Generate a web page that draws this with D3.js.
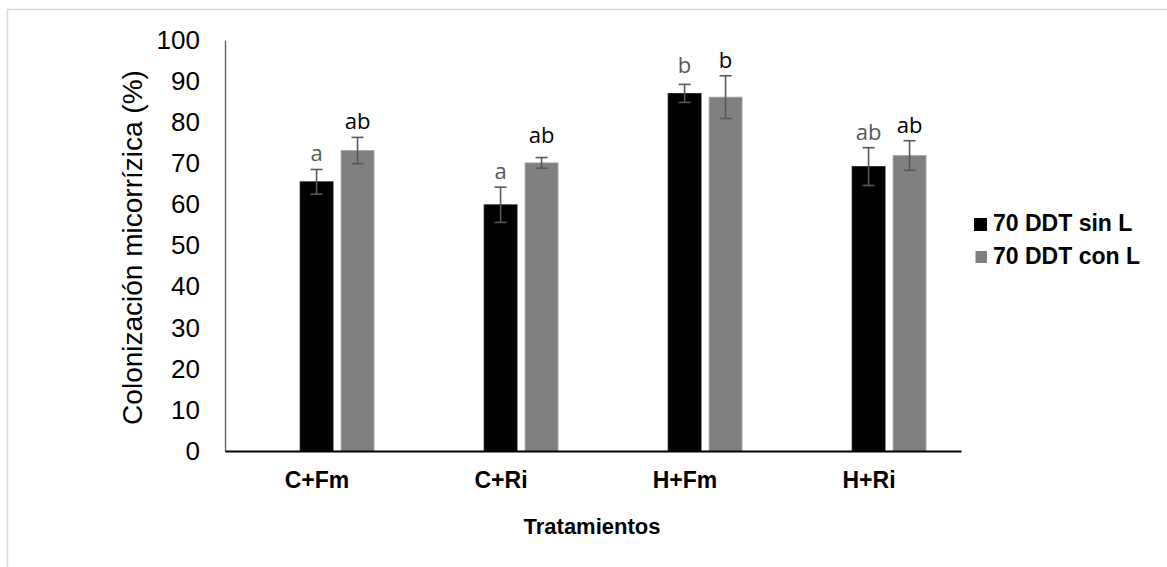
<!DOCTYPE html>
<html>
<head>
<meta charset="utf-8">
<script src="https://cdn.jsdelivr.net/npm/d3@7"></script>
<style>
  html, body { margin: 0; padding: 0; background: #fff; }
  svg { display: block; }
</style>
</head>
<body>
<svg id="chart" width="1167" height="567"></svg>
<script>
// Treatments on the x axis
const categories = ["C+Fm", "C+Ri", "H+Fm", "H+Ri"];
// Series names (legend)
const seriesNames = ["70 DDT sin L", "70 DDT con L"];
// Mean mycorrhizal colonization (%) per treatment
const sinL = [65.5, 59.9, 87.0, 69.2];
const conL = [73.1, 70.1, 86.1, 71.9];
// Error bar half-lengths (%)
const errSinL = [3.0, 4.3, 2.2, 4.6];
const errConL = [3.2, 1.3, 5.2, 3.6];
// Significance letters
const lettersSinL = ["a", "a", "b", "ab"];
const lettersConL = ["ab", "ab", "b", "ab"];
// Y axis ticks
const yTicks = [0, 10, 20, 30, 40, 50, 60, 70, 80, 90, 100];

const series = [
  { name: seriesNames[0], values: sinL, errs: errSinL, letters: lettersSinL,
    fill: "#000000", stroke: "#1a1a1a", letterColor: "#595959" },
  { name: seriesNames[1], values: conL, errs: errConL, letters: lettersConL,
    fill: "#808080", stroke: "#a6a6a6", letterColor: "#000000" }
];

const svg = d3.select("#chart");

// outer chart-area frame
svg.append("rect")
  .attr("x", 7.5).attr("y", 9.5)
  .attr("width", 1300).attr("height", 700)
  .attr("fill", "#fff")
  .attr("stroke", "#d9d9d9").attr("stroke-width", 1.5);

const plot = { left: 225, right: 961, top: 40, bottom: 451 };

const x0 = d3.scaleBand()
  .domain(categories)
  .range([plot.left, plot.right])
  .paddingInner(0).paddingOuter(0);

// the two bars sit in the right part of each category slot
const bw = x0.bandwidth();
const x1 = d3.scaleBand()
  .domain(seriesNames)
  .range([bw * 0.408, bw * 0.81])
  .paddingInner(0.195).paddingOuter(0);

const y = d3.scaleLinear().domain([0, 100]).range([plot.bottom, plot.top]);

// Y axis
const yAxis = svg.append("g")
  .attr("transform", `translate(${plot.left},0)`)
  .call(d3.axisLeft(y).tickValues(yTicks).tickSize(0).tickPadding(25));
yAxis.select(".domain").attr("stroke", "#595959").attr("stroke-width", 1.3);
yAxis.selectAll("text")
  .attr("font-family", "'Liberation Sans', Arial, sans-serif")
  .attr("font-size", 26)
  .attr("fill", "#000");

// Bars
const groups = svg.append("g").selectAll("g")
  .data(series)
  .join("g");

groups.selectAll("rect")
  .data(s => s.values.map((v, i) => ({ s, v, i })))
  .join("rect")
  .attr("x", d => x0(categories[d.i]) + x1(d.s.name))
  .attr("y", d => y(d.v))
  .attr("width", x1.bandwidth())
  .attr("height", d => y(0) - y(d.v))
  .attr("fill", d => d.s.fill)
  .attr("stroke", d => d.s.stroke)
  .attr("stroke-width", 0.8);

// Error bars
const cap = 6;
groups.selectAll("g.err")
  .data(s => s.values.map((v, i) => ({ s, v, i, e: s.errs[i] })))
  .join("g")
  .attr("class", "err")
  .each(function (d) {
    const cx = x0(categories[d.i]) + x1(d.s.name) + x1.bandwidth() / 2;
    const g = d3.select(this);
    const yt = y(d.v + d.e), yb = y(d.v - d.e);
    const line = (x1_, y1_, x2_, y2_) => g.append("line")
      .attr("x1", x1_).attr("y1", y1_).attr("x2", x2_).attr("y2", y2_)
      .attr("stroke", "#595959").attr("stroke-width", 1.6);
    line(cx, yt, cx, yb);
    line(cx - cap, yt, cx + cap, yt);
    line(cx - cap, yb, cx + cap, yb);
  });

// Significance letters, clear of both the bar top and the error cap
groups.selectAll("text")
  .data(s => s.values.map((v, i) => ({ s, v, i, e: s.errs[i] })))
  .join("text")
  .attr("x", d => x0(categories[d.i]) + x1(d.s.name) + x1.bandwidth() / 2)
  .attr("y", d => Math.min(y(d.v + d.e) - 8, y(d.v) - 20))
  .attr("text-anchor", "middle")
  .attr("font-family", "'Open Sans', 'Noto Sans', sans-serif")
  .attr("font-size", 22)
  .attr("fill", d => d.s.letterColor)
  .text(d => d.s.letters[d.i]);

// X axis
const xAxis = svg.append("g")
  .attr("transform", `translate(0,${plot.bottom})`)
  .call(d3.axisBottom(x0).tickSize(0).tickPadding(21));
xAxis.select(".domain").attr("stroke", "#000").attr("stroke-width", 2);
xAxis.selectAll("text")
  .attr("font-family", "'Liberation Sans', Arial, sans-serif")
  .attr("font-size", 23)
  .attr("font-weight", "bold")
  .attr("fill", "#000");

// Axis titles
svg.append("text")
  .attr("transform", `translate(142,${(plot.top + plot.bottom) / 2 + 2}) rotate(-90)`)
  .attr("text-anchor", "middle")
  .attr("font-family", "'Liberation Sans', Arial, sans-serif")
  .attr("font-size", 28)
  .attr("fill", "#000")
  .text("Colonización micorrízica (%)");

svg.append("text")
  .attr("x", (plot.left + plot.right) / 2 - 1)
  .attr("y", 534)
  .attr("text-anchor", "middle")
  .attr("font-family", "'Liberation Sans', Arial, sans-serif")
  .attr("font-size", 22)
  .attr("font-weight", "bold")
  .attr("fill", "#000")
  .text("Tratamientos");

// Legend
const legend = svg.append("g").attr("transform", "translate(974,218)");
const li = legend.selectAll("g")
  .data(series)
  .join("g")
  .attr("transform", (d, i) => `translate(0,${i * 33})`);
li.append("rect")
  .attr("x", d => d.fill === "#000000" ? 0 : 1.5)
  .attr("y", 0)
  .attr("width", d => d.fill === "#000000" ? 13 : 11.5)
  .attr("height", d => d.fill === "#000000" ? 13 : 12)
  .attr("fill", d => d.fill);
li.append("text")
  .attr("x", 19)
  .attr("y", 13)
  .attr("font-family", "'Liberation Sans', Arial, sans-serif")
  .attr("font-size", 23)
  .attr("font-weight", "bold")
  .attr("fill", "#000")
  .text(d => d.name);
</script>
</body>
</html>
